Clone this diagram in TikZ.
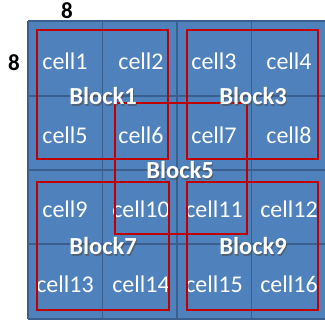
\documentclass[tikz,border=0pt]{standalone}
\usepackage{fontspec}
\setmainfont{Carlito}
\definecolor{cellblue}{HTML}{4F81BD}
\definecolor{gridblue}{HTML}{3A5F8F}
\definecolor{blockred}{HTML}{C00000}
\begin{document}
\begin{tikzpicture}[x=1pt,y=-1pt,
  celltxt/.style={text=white,font=\fontsize{24}{26}\selectfont,inner sep=0pt},
  blocktxt/.style={text=white,font=\bfseries\fontsize{24.5}{26}\selectfont,inner sep=0pt},
  shadowtxt/.style={text=black!70,font=\bfseries\fontsize{24.5}{26}\selectfont,inner sep=0pt,opacity=0.55},
  dimtxt/.style={text=black,font=\bfseries\fontsize{23}{25}\selectfont,inner sep=0pt},
  blockbox/.style={draw=blockred,line width=2.8pt}]
\useasboundingbox (0,0) rectangle (325,321);
\begin{scope}
\clip (0,0) rectangle (325,321);
\fill[cellblue] (28,21) rectangle (326,319);
\foreach \x in {28,102.5,177,251.5,326} \draw[gridblue,line width=1.5pt] (\x,21) -- (\x,319);
\foreach \y in {21,96,170,244,319} \draw[gridblue,line width=1.5pt] (28,\y) -- (326,\y);
\end{scope}
% dimension labels
\node[dimtxt] (dimtop) at (67,11) {8};
\node[dimtxt] (dimleft) at (14,63) {8};
% cells
\node[celltxt] (c1) at (65,61) {cell1};
\node[celltxt] (c2) at (141,61) {cell2};
\node[celltxt] (c3) at (214,61) {cell3};
\node[celltxt] (c4) at (289,61) {cell4};
\node[celltxt] (c5) at (65,135) {cell5};
\node[celltxt] (c6) at (141,135) {cell6};
\node[celltxt] (c7) at (214,135) {cell7};
\node[celltxt] (c8) at (289,135) {cell8};
\node[celltxt] (c9) at (65,209) {cell9};
\node[celltxt] (c10) at (141,209) {cell10};
\node[celltxt] (c11) at (214,209) {cell11};
\node[celltxt] (c12) at (289,209) {cell12};
\node[celltxt] (c13) at (65,284) {cell13};
\node[celltxt] (c14) at (141,284) {cell14};
\node[celltxt] (c15) at (214,284) {cell15};
\node[celltxt] (c16) at (289,284) {cell16};
% blocks
\draw[blockbox] (37,30) rectangle (168,159);
\draw[blockbox] (187,30) rectangle (318,159);
\draw[blockbox] (115,103) rectangle (247,234);
\draw[blockbox] (37,182) rectangle (169,310);
\draw[blockbox] (187,182) rectangle (318,310);
% block labels with shadow
\foreach \n/\px/\py in {Block1/103/96,Block3/253/96,Block5/180/170,Block7/103/246,Block9/253/246}{
  \node[shadowtxt] at (\px+1.2,\py+1.5) {\n};
}
\node[blocktxt] (b1) at (103,96) {Block1};
\node[blocktxt] (b3) at (253,96) {Block3};
\node[blocktxt] (b5) at (180,170) {Block5};
\node[blocktxt] (b7) at (103,246) {Block7};
\node[blocktxt] (b9) at (253,246) {Block9};
\end{tikzpicture}
\end{document}
